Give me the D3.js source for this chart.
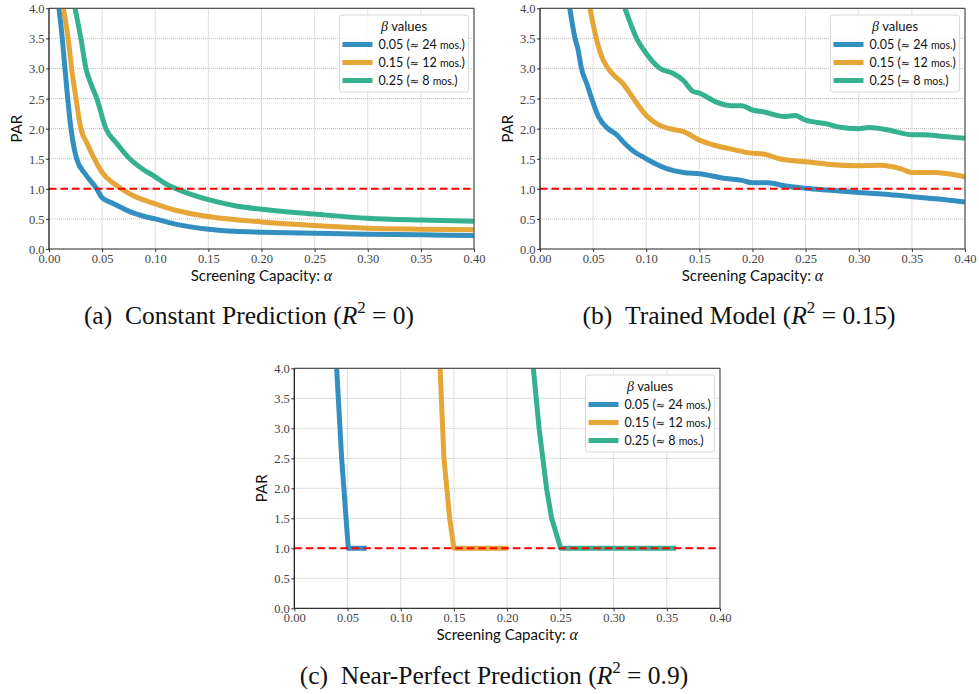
<!DOCTYPE html>
<html><head><meta charset="utf-8">
<script src="https://cdn.jsdelivr.net/npm/d3@7"></script>
<style>body{margin:0;background:#fff;} svg{display:block;}</style>
</head><body>
<svg id="c" width="979" height="694"></svg>
<script>
// ---------- data ----------
const xTicks = [0.00,0.05,0.10,0.15,0.20,0.25,0.30,0.35,0.40];
const yTicks = [0.0,0.5,1.0,1.5,2.0,2.5,3.0,3.5,4.0];
const betaLabels = ["0.05", "0.15", "0.25"];
const betaMonths = ["24", "12", "8"];
const seriesColors = ["#348fc1", "#e5a537", "#35b18f"];
const captions = ["Constant Prediction", "Trained Model", "Near-Perfect Prediction"];
const captionTags = ["(a)", "(b)", "(c)"];
const captionR2 = ["0", "0.15", "0.9"];

// Panel (a) Constant Prediction
const aBlueX = [0.0094,0.0125,0.015,0.0176,0.0207,0.026,0.034,0.0449,0.05,0.06,0.075,0.09,0.10,0.12,0.15,0.175,0.20,0.25,0.30,0.35,0.40];
const aBlueY = [4.0,3.5,3.0,2.5,2.0,1.5,1.25,1.0,0.85,0.76,0.63,0.54,0.50,0.41,0.33,0.295,0.28,0.26,0.245,0.235,0.225];
const aOrangeX = [0.0135,0.018,0.0213,0.0254,0.030,0.036,0.0427,0.051,0.06,0.0684,0.08,0.10,0.12,0.15,0.20,0.25,0.30,0.35,0.40];
const aOrangeY = [4.0,3.5,3.0,2.5,2.0,1.75,1.5,1.25,1.1,1.0,0.88,0.75,0.64,0.54,0.45,0.39,0.345,0.33,0.32];
const aGreenX = [0.0245,0.030,0.0348,0.040,0.045,0.0536,0.064,0.076,0.088,0.10,0.11,0.12,0.135,0.15,0.175,0.20,0.25,0.30,0.35,0.40];
const aGreenY = [4.0,3.5,3.0,2.72,2.5,2.0,1.75,1.5,1.33,1.2,1.08,1.0,0.9,0.82,0.72,0.66,0.58,0.51,0.48,0.46];

// Panel (b) Trained Model
const bBlueX = [0.028,0.033,0.036,0.039,0.044,0.0486,0.055,0.064,0.072,0.08,0.09,0.097,0.105,0.12,0.135,0.15,0.175,0.19,0.20,0.215,0.23,0.25,0.27,0.30,0.325,0.35,0.375,0.40];
const bBlueY = [4.0,3.5,3.3,3.0,2.75,2.5,2.2,2.0,1.9,1.75,1.6,1.53,1.45,1.33,1.27,1.25,1.17,1.14,1.10,1.10,1.05,1.01,0.98,0.94,0.91,0.87,0.83,0.78];
const bOrangeX = [0.047,0.053,0.058,0.064,0.07,0.078,0.088,0.10,0.11,0.122,0.135,0.15,0.165,0.18,0.20,0.21,0.225,0.25,0.27,0.30,0.32,0.34,0.35,0.37,0.40];
const bOrangeY = [4.0,3.5,3.2,3.0,2.88,2.75,2.5,2.22,2.08,2.0,1.95,1.81,1.72,1.66,1.59,1.58,1.5,1.45,1.41,1.385,1.39,1.33,1.27,1.27,1.2];
const bGreenX = [0.08,0.091,0.10,0.113,0.125,0.135,0.144,0.15,0.165,0.18,0.19,0.20,0.21,0.23,0.24,0.25,0.27,0.28,0.30,0.31,0.33,0.35,0.36,0.38,0.40];
const bGreenY = [4.0,3.5,3.25,3.0,2.92,2.8,2.62,2.59,2.45,2.38,2.38,2.31,2.28,2.2,2.22,2.14,2.08,2.03,2.0,2.02,1.97,1.9,1.9,1.87,1.84];

// Panel (c) Near-Perfect Prediction
const cBlueX = [0.0398,0.0445,0.0507,0.068];
const cBlueY = [4.0,2.5,1.0,1.0];
const cOrangeX = [0.137,0.1406,0.146,0.150,0.201];
const cOrangeY = [4.0,2.5,1.5,1.0,1.0];
const cGreenX = [0.2246,0.230,0.237,0.2418,0.2503,0.3587];
const cGreenY = [4.0,3.0,2.0,1.5,1.0,1.0];

const parityLine = 1.0;

// ---------- drawing ----------
const svg = d3.select("#c");
const zip = (xs, ys) => xs.map((x,i)=>({x, y: ys[i]}));

const panels = [
  {L:49, R:474, T:8.3, B:249, capX:249, capY:324, smooth:true,
   series:[zip(aBlueX,aBlueY), zip(aOrangeX,aOrangeY), zip(aGreenX,aGreenY)]},
  {L:540, R:965, T:8.3, B:249, capX:739, capY:324, smooth:true,
   series:[zip(bBlueX,bBlueY), zip(bOrangeX,bOrangeY), zip(bGreenX,bGreenY)]},
  {L:294.3, R:720, T:368.3, B:608.3, capX:494, capY:684, smooth:false,
   series:[zip(cBlueX,cBlueY), zip(cOrangeX,cOrangeY), zip(cGreenX,cGreenY)]}
];

const tickFont = "'Liberation Serif', 'DejaVu Serif', serif";
const sansFont = "Lato, 'DejaVu Sans', sans-serif";

panels.forEach((p, pi) => {
  const x = d3.scaleLinear().domain([0, 0.40]).range([p.L, p.R]);
  const y = d3.scaleLinear().domain([0, 4.0]).range([p.B, p.T]);
  const g = svg.append("g");

  // grid
  g.append("g").selectAll("line").data(xTicks).join("line")
    .attr("x1", d=>x(d)).attr("x2", d=>x(d)).attr("y1", p.T).attr("y2", p.B)
    .attr("stroke", "#b0b0b0").attr("stroke-width", 0.8).attr("stroke-dasharray", "1,1");
  g.append("g").selectAll("line").data(yTicks).join("line")
    .attr("y1", d=>y(d)).attr("y2", d=>y(d)).attr("x1", p.L).attr("x2", p.R)
    .attr("stroke", "#b0b0b0").attr("stroke-width", 0.8).attr("stroke-dasharray", "1,1");

  // curves
  const clipId = "clip"+pi;
  svg.append("clipPath").attr("id", clipId).append("rect")
    .attr("x", p.L).attr("y", p.T).attr("width", p.R-p.L).attr("height", p.B-p.T);
  const line = d3.line().x(d=>x(d.x)).y(d=>y(d.y))
    .curve(p.smooth ? d3.curveMonotoneX : d3.curveLinear);
  p.series.forEach((s, si) => {
    g.append("path").attr("d", line(s)).attr("clip-path", `url(#${clipId})`)
      .attr("fill", "none").attr("stroke", seriesColors[si]).attr("stroke-width", 5)
      .attr("stroke-linejoin", "round").attr("stroke-linecap", "butt");
  });

  // red parity line
  g.append("line").attr("x1", p.L).attr("x2", p.R)
    .attr("y1", y(parityLine)).attr("y2", y(parityLine))
    .attr("stroke", "#ff0000").attr("stroke-width", 2).attr("stroke-dasharray", "7.5,4");

  // axes
  const xAxis = d3.axisBottom(x).tickValues(xTicks).tickFormat(d3.format(".2f")).tickSize(3).tickPadding(2);
  const yAxis = d3.axisLeft(y).tickValues(yTicks).tickFormat(d3.format(".1f")).tickSize(3).tickPadding(1.5);
  const gx = g.append("g").attr("transform", `translate(0,${p.B})`).call(xAxis);
  const gy = g.append("g").attr("transform", `translate(${p.L},0)`).call(yAxis);
  [gx, gy].forEach(a => {
    a.select(".domain").remove();
    a.selectAll("line").attr("stroke", "#333");
    a.selectAll("text").attr("font-family", tickFont).attr("font-size", 12.5).attr("fill", "#444");
  });
  gy.selectAll("text").attr("dy", "0.36em");

  // frame
  g.append("line").attr("x1", p.L).attr("x2", p.R).attr("y1", p.T).attr("y2", p.T).attr("stroke", "#555").attr("stroke-width", 1.2);
  g.append("line").attr("x1", p.R).attr("x2", p.R).attr("y1", p.T).attr("y2", p.B).attr("stroke", "#555").attr("stroke-width", 1.2);
  g.append("line").attr("x1", p.L).attr("x2", p.R).attr("y1", p.B).attr("y2", p.B).attr("stroke", "#333").attr("stroke-width", 1.2);
  g.append("line").attr("x1", p.L).attr("x2", p.L).attr("y1", p.T).attr("y2", p.B).attr("stroke", "#111").attr("stroke-width", 1.2);

  // axis labels
  const xl = g.append("text").attr("x", (p.L+p.R)/2).attr("y", p.B+32).attr("text-anchor", "middle")
    .attr("font-family", sansFont).attr("font-size", 15).attr("fill", "#111");
  xl.append("tspan").text("Screening Capacity: ");
  xl.append("tspan").attr("font-family", tickFont).attr("font-style", "italic").attr("font-size", 16).text("α");
  g.append("text").attr("transform", `translate(${p.L-27.5},${(p.T+p.B)/2}) rotate(-90)`)
    .attr("text-anchor", "middle").attr("font-family", sansFont).attr("font-size", 15).attr("fill", "#111").text("PAR");

  // legend
  const lw = 129, lh = 77;
  const lx = p.R - 5.5 - lw, ly = p.T + 6.7;
  const lg = g.append("g").attr("transform", `translate(${lx},${ly})`);
  lg.append("rect").attr("width", lw).attr("height", lh).attr("rx", 2.5)
    .attr("fill", "#fff").attr("fill-opacity", 0.85).attr("stroke", "#d8d8d8").attr("stroke-width", 1);
  const tt = lg.append("text").attr("x", lw/2).attr("y", 15.5).attr("text-anchor", "middle")
    .attr("font-family", sansFont).attr("font-size", 13).attr("fill", "#111");
  tt.append("tspan").attr("font-family", tickFont).attr("font-style", "italic").attr("font-size", 14).text("β");
  tt.append("tspan").text(" values");
  betaLabels.forEach((b, i) => {
    const yy = 29.5 + i*18;
    lg.append("line").attr("x1", 3).attr("x2", 33).attr("y1", yy).attr("y2", yy)
      .attr("stroke", seriesColors[i]).attr("stroke-width", 5);
    const t = lg.append("text").attr("x", 39).attr("y", yy+4.3).attr("font-family", sansFont)
      .attr("font-size", 12.5).attr("fill", "#111");
    t.append("tspan").text(`${b} (`);
    t.append("tspan").attr("font-family", "'DejaVu Sans', sans-serif").attr("font-size", 11).text("≈");
    t.append("tspan").text(` ${betaMonths[i]} `);
    t.append("tspan").attr("font-size", 10.5).text("mos.");
    t.append("tspan").text(")");
  });

  // caption
  const cap = svg.append("text").attr("x", p.capX).attr("y", p.capY).attr("text-anchor", "middle")
    .attr("font-family", tickFont).attr("font-size", 25.5).attr("fill", "#111");
  cap.append("tspan").text(captionTags[pi] + "\u2002" + captions[pi] + " (");
  cap.append("tspan").attr("font-style", "italic").text("R");
  cap.append("tspan").attr("font-size", 17).attr("dy", -11).text("2");
  cap.append("tspan").attr("dy", 11).text(" = " + captionR2[pi] + ")");
});
</script>
</body></html>
